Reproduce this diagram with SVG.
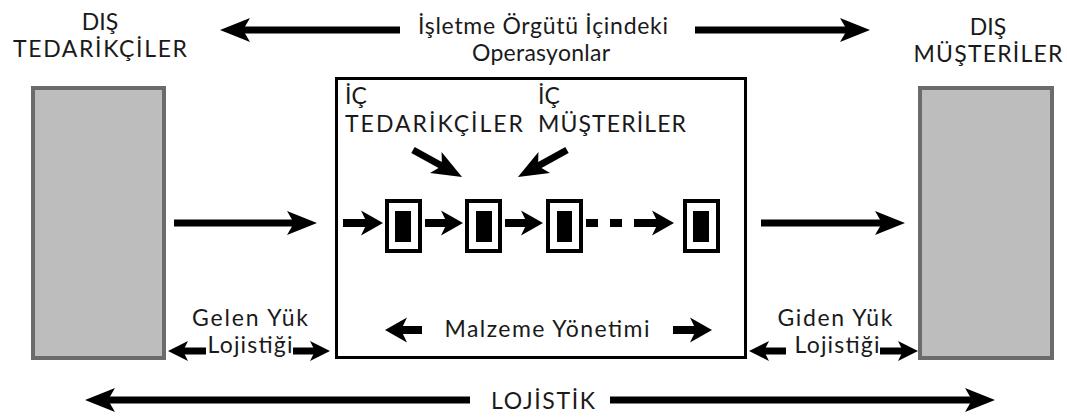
<svg xmlns="http://www.w3.org/2000/svg" width="1067" height="417" viewBox="0 0 1067 417">
  <style>
    .lbl { font-family: Lato, "Open Sans", "Liberation Sans", sans-serif; font-size: 23px; fill: #1a1a1a; }
    .low { font-size: 23px; }
    .ext { fill: #bdbdbd; stroke: #6b6b6b; stroke-width: 4; }
    .frame { fill: #fff; stroke: #000; stroke-width: 3; }
    .step { fill: #fff; stroke: #000; stroke-width: 4; }
    .core { fill: #000; }
    .arw { stroke: #000; stroke-width: 7; fill: none; }
    .arw8 { stroke: #000; stroke-width: 8; fill: none; }
  </style>
  <defs>
    <!-- notched arrowheads; the tip sits past the end of the shaft -->
    <marker id="big" markerUnits="userSpaceOnUse" markerWidth="32" markerHeight="28" viewBox="0 -14 32 28" refX="20" refY="0" orient="auto-start-reverse">
      <path d="M0,-12 L30,0 L0,12 L7,0 Z" fill="#000"/>
    </marker>
    <marker id="mid" markerUnits="userSpaceOnUse" markerWidth="24" markerHeight="28" viewBox="0 -14 24 28" refX="14" refY="0" orient="auto-start-reverse">
      <path d="M0,-12.5 L22,0 L0,12.5 L6,0 Z" fill="#000"/>
    </marker>
    <marker id="sml" markerUnits="userSpaceOnUse" markerWidth="22" markerHeight="24" viewBox="0 -12 22 24" refX="12" refY="0" orient="auto-start-reverse">
      <path d="M0,-10 L20,0 L0,10 L5,0 Z" fill="#000"/>
    </marker>
  </defs>

  <!-- external suppliers -->
  <g id="dis-tedarikciler">
    <text class="lbl" x="100" y="30" text-anchor="middle">DIŞ</text>
    <text class="lbl" x="100" y="57" text-anchor="middle" textLength="174">TEDARİKÇİLER</text>
    <rect class="ext" x="33" y="88" width="131" height="270"/>
  </g>

  <!-- external customers -->
  <g id="dis-musteriler">
    <text class="lbl" x="988" y="35" text-anchor="middle">DIŞ</text>
    <text class="lbl" x="988" y="62" text-anchor="middle" textLength="149">MÜŞTERİLER</text>
    <rect class="ext" x="920" y="88" width="132" height="270"/>
  </g>

  <!-- operations inside the organisation -->
  <g id="isletme">
    <rect class="frame" x="336.5" y="78.5" width="409" height="279"/>
    <text class="lbl" x="345" y="104">İÇ</text>
    <text class="lbl" x="345" y="132" textLength="178">TEDARİKÇİLER</text>
    <text class="lbl" x="538" y="104">İÇ</text>
    <text class="lbl" x="538" y="132" textLength="148">MÜŞTERİLER</text>
    <text class="lbl low" x="547" y="337" text-anchor="middle" textLength="205">Malzeme Yönetimi</text>
  </g>

  <g id="adim-1">
    <rect class="step" x="387" y="201" width="33" height="50"/>
    <rect class="core" x="395" y="211" width="16" height="31"/>
  </g>
  <g id="adim-2">
    <rect class="step" x="467" y="201" width="33" height="50"/>
    <rect class="core" x="476" y="211" width="16" height="31"/>
  </g>
  <g id="adim-3">
    <rect class="step" x="548" y="201" width="33" height="50"/>
    <rect class="core" x="557" y="211" width="15" height="31"/>
  </g>
  <g id="adim-n">
    <rect class="step" x="685" y="201" width="33" height="50"/>
    <rect class="core" x="693" y="211" width="16" height="31"/>
  </g>

  <!-- flow labels -->
  <g id="ust-baslik">
    <text class="lbl low" x="543" y="34" text-anchor="middle" textLength="250">İşletme Örgütü İçindeki</text>
    <text class="lbl low" x="541" y="61" text-anchor="middle" textLength="138">Operasyonlar</text>
  </g>
  <g id="gelen-yuk">
    <text class="lbl low" x="250" y="326" text-anchor="middle" textLength="116">Gelen Yük</text>
    <text class="lbl low" x="250" y="353" text-anchor="middle" textLength="85">Lojistiği</text>
  </g>
  <g id="giden-yuk">
    <text class="lbl low" x="835" y="326" text-anchor="middle" textLength="115">Giden Yük</text>
    <text class="lbl low" x="837" y="353" text-anchor="middle" textLength="85">Lojistiği</text>
  </g>
  <g id="lojistik">
    <text class="lbl" x="543" y="409" text-anchor="middle" textLength="104">LOJİSTİK</text>
  </g>

  <!-- connectors -->
  <g id="connectors">
    <line class="arw" x1="230" y1="30" x2="400" y2="30" marker-start="url(#big)"/>
    <line class="arw" x1="695" y1="30" x2="860" y2="30" marker-end="url(#big)"/>

    <line class="arw" x1="174" y1="223" x2="307" y2="223" marker-end="url(#big)"/>
    <line class="arw" x1="761" y1="223" x2="895" y2="223" marker-end="url(#big)"/>

    <line class="arw" x1="413" y1="150" x2="453.3" y2="172.2" marker-end="url(#big)"/>
    <line class="arw" x1="567" y1="150" x2="526.7" y2="172.2" marker-end="url(#big)"/>

    <line class="arw8" x1="343" y1="223" x2="375" y2="223" marker-end="url(#mid)"/>
    <line class="arw8" x1="425" y1="223" x2="455" y2="223" marker-end="url(#mid)"/>
    <line class="arw8" x1="505" y1="223" x2="535" y2="223" marker-end="url(#mid)"/>
    <line class="arw8" x1="586" y1="223" x2="666" y2="223" stroke-dasharray="12 12 12 12 60" marker-end="url(#mid)"/>

    <line class="arw8" x1="393" y1="330" x2="422" y2="330" marker-start="url(#mid)"/>
    <line class="arw8" x1="673" y1="330" x2="704" y2="330" marker-end="url(#mid)"/>

    <line class="arw" x1="176" y1="351" x2="206" y2="351" marker-start="url(#sml)"/>
    <line class="arw" x1="293" y1="351" x2="322" y2="351" marker-end="url(#sml)"/>
    <line class="arw" x1="757" y1="351" x2="786" y2="351" marker-start="url(#sml)"/>
    <line class="arw" x1="880" y1="351" x2="910" y2="351" marker-end="url(#sml)"/>

    <line class="arw" x1="95" y1="400" x2="470" y2="400" marker-start="url(#big)"/>
    <line class="arw" x1="610" y1="400" x2="985" y2="400" marker-end="url(#big)"/>
  </g>
</svg>
